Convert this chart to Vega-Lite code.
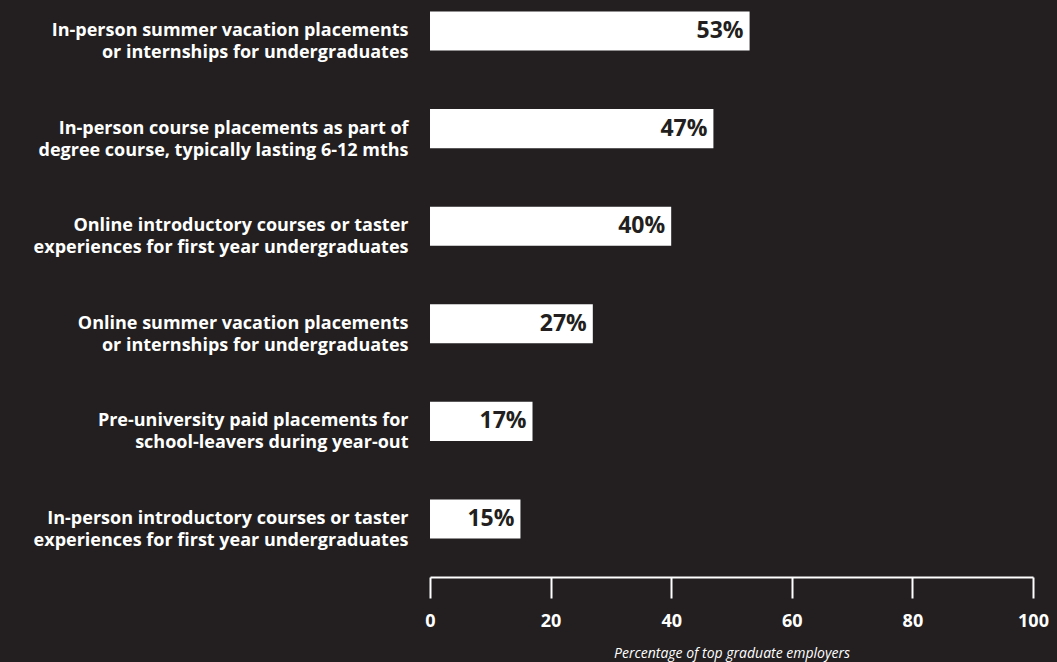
{
  "$schema": "https://vega.github.io/schema/vega-lite/v6.json",
  "autosize": "none",
  "width": 603,
  "height": 550,
  "padding": {"left": 430, "top": 0, "right": 24, "bottom": 112},
  "background": "#231f20",
  "config": {"view": {"stroke": null}, "font": "Open Sans"},
  "data": {
    "values": [
      {"category": "In-person summer vacation placements|or internships for undergraduates", "value": 53, "label": "53%", "order": 1},
      {"category": "In-person course placements as part of|degree course, typically lasting 6-12 mths", "value": 47, "label": "47%", "order": 2},
      {"category": "Online introductory courses or taster|experiences for first year undergraduates", "value": 40, "label": "40%", "order": 3},
      {"category": "Online summer vacation placements|or internships for undergraduates", "value": 27, "label": "27%", "order": 4},
      {"category": "Pre-university paid placements for|school-leavers during year-out", "value": 17, "label": "17%", "order": 5},
      {"category": "In-person  introductory courses or taster|experiences for first year undergraduates", "value": 15, "label": "15%", "order": 6}
    ]
  },
  "encoding": {
    "y": {
      "field": "category",
      "type": "nominal",
      "sort": {"field": "order", "op": "min"},
      "scale": {"paddingInner": 0.6, "paddingOuter": 0.118},
      "axis": {
        "title": null,
        "domain": false,
        "ticks": false,
        "labelExpr": "split(datum.label, '|')",
        "labelColor": "#ffffff",
        "labelFont": "Open Sans",
        "labelFontWeight": "bold",
        "labelFontSize": 18,
        "labelLineHeight": 22,
        "labelPadding": 22,
        "labelLimit": 500
      }
    },
    "x": {
      "field": "value",
      "type": "quantitative",
      "scale": {"domain": [0, 100], "nice": false},
      "axis": {
        "values": [0, 20, 40, 60, 80, 100],
        "grid": false,
        "offset": 27,
        "domainColor": "#ffffff",
        "domainWidth": 2,
        "tickColor": "#ffffff",
        "tickWidth": 2,
        "tickSize": 21,
        "labelFlush": false,
        "labelColor": "#ffffff",
        "labelFont": "Open Sans",
        "labelFontWeight": "bold",
        "labelFontSize": 18,
        "labelPadding": 14,
        "title": "Percentage of top graduate employers",
        "titleColor": "#ffffff",
        "titleFont": "Open Sans",
        "titleFontStyle": "italic",
        "titleFontWeight": "normal",
        "titleFontSize": 14,
        "titlePadding": 16
      }
    }
  },
  "layer": [
    {"mark": {"type": "bar", "color": "#ffffff"}},
    {
      "mark": {"type": "text", "align": "right", "dx": -6, "color": "#231f20", "fontWeight": "bold", "fontSize": 23, "font": "Open Sans", "baseline": "middle"},
      "encoding": {"text": {"field": "label", "type": "nominal"}}
    }
  ]
}
